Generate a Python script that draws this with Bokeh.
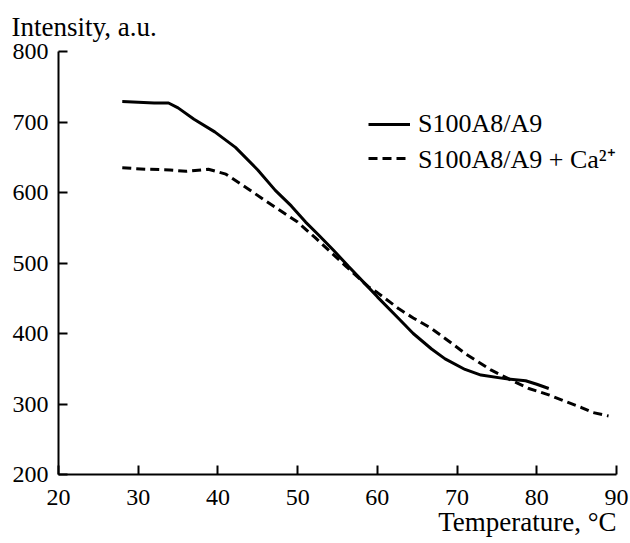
from bokeh.plotting import figure
from bokeh.models import Legend, LegendItem, Title
from bokeh.embed import file_html
from bokeh.resources import INLINE

# Data
t_apo = [28, 30, 32, 33.8, 35, 37, 39.6, 42.2, 45, 47.2, 49.2, 51, 52.6, 54.5, 56.4, 58.5, 60, 62.7, 64.5, 66.8, 68.5, 71, 73, 76, 78.6, 80, 81.5]
i_apo = [729, 728, 727, 727, 720, 704, 686, 664, 632, 603, 581, 558, 540, 518, 495, 470, 452, 421, 400, 378, 364, 349, 341, 336, 333, 328, 322]

t_ca = [28, 31, 34, 36, 38.8, 41, 43.8, 46, 48, 50, 52.2, 54, 56, 58.9, 60, 62.7, 64.5, 66.8, 68.5, 71.1, 74.3, 77.3, 79, 81.5, 83.5, 85.6, 87, 89]
i_ca = [635, 633, 632, 630, 633, 626, 605, 588, 573, 558, 536, 517, 496, 466, 458, 435, 422, 407, 393, 371, 348, 331, 322, 313, 304, 295, 288, 283]

x_ticks = [20, 30, 40, 50, 60, 70, 80, 90]
y_ticks = [200, 300, 400, 500, 600, 700, 800]

label_apo = "S100A8/A9"
label_ca = "S100A8/A9 + Ca²⁺"
y_title = "Intensity, a.u."
x_title = "Temperature, °C"

FONT = "Liberation Serif"

p = figure(width=630, height=543, x_range=(20, 90), y_range=(200, 800),
           output_backend="svg", toolbar_location=None,
           min_border_left=58, min_border_right=14, min_border_top=50, min_border_bottom=69)
p.xgrid.visible = False
p.ygrid.visible = False
p.outline_line_color = None
p.background_fill_color = "white"
p.border_fill_color = "white"

for ax in (p.xaxis[0], p.yaxis[0]):
    ax.major_tick_in = 9
    ax.major_tick_out = 0
    ax.minor_tick_line_color = None
    ax.axis_line_width = 2
    ax.major_tick_line_width = 2
    ax.axis_line_color = "black"
    ax.major_tick_line_color = "black"
    ax.major_label_text_font = FONT
    ax.major_label_text_font_size = "24px"
    ax.major_label_text_color = "black"
p.xaxis.ticker = x_ticks
p.yaxis.ticker = y_ticks
p.xaxis.major_label_standoff = 15
p.yaxis.major_label_standoff = 10

r1 = p.line(t_apo, i_apo, line_color="black", line_width=3)
r2 = p.line(t_ca, i_ca, line_color="black", line_width=3, line_dash="9 5")

legend = Legend(items=[LegendItem(label=label_apo, renderers=[r1]),
                       LegendItem(label=label_ca, renderers=[r2])],
                location=(310, 298))
legend.border_line_color = None
legend.background_fill_alpha = 0
legend.padding = 0
legend.margin = 0
legend.spacing = 0
legend.glyph_width = 42
legend.glyph_height = 32
legend.label_height = 32
legend.label_standoff = 8
legend.label_text_font = FONT
legend.label_text_font_size = "26px"
legend.label_text_color = "black"
p.add_layout(legend, "center")

ttop = Title(text=y_title, align="left", offset=-47,
             text_font=FONT, text_font_size="27px", text_font_style="normal",
             text_color="black", standoff=19)
p.add_layout(ttop, "above")

tbot = Title(text=x_title, align="right", offset=0,
             text_font=FONT, text_font_size="27px", text_font_style="normal",
             text_color="black", standoff=-5)
p.add_layout(tbot, "below")

open("out.html", "w").write(file_html(p, INLINE))
